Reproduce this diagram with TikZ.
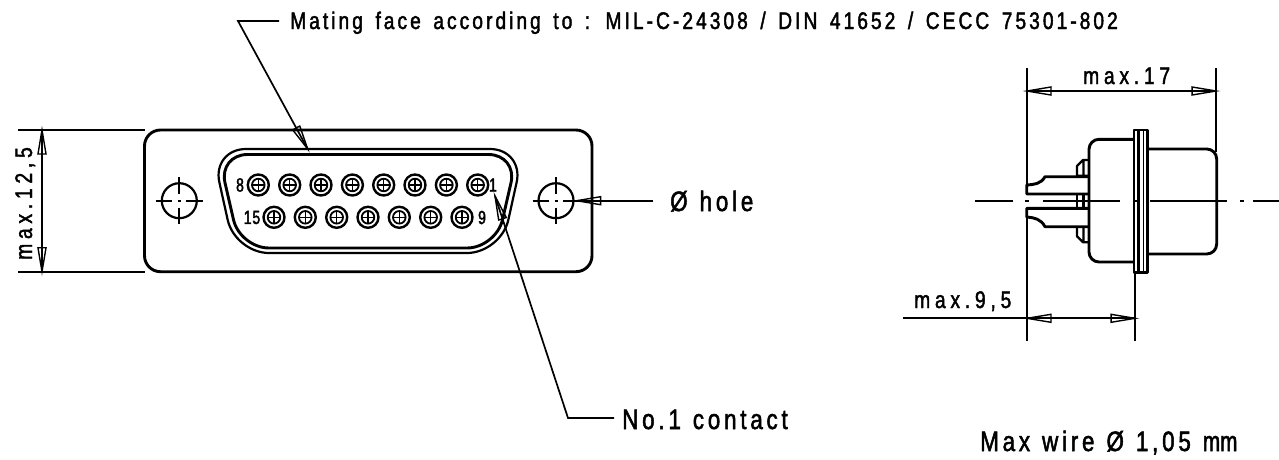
\documentclass[tikz,border=0pt]{standalone}
\usepackage{fontspec}
\setmainfont[FakeStretch=0.8,LetterSpace=12.6,WordSpace=1.5,FakeBold=1.8]{Liberation Sans}
\newfontfamily\bigf[FakeStretch=0.8,LetterSpace=13.5,WordSpace=1.2,FakeBold=1.8]{Liberation Sans}
\newfontfamily\dimf[FakeStretch=0.8,LetterSpace=20,FakeBold=1.8]{Liberation Sans}
\newfontfamily\pinf[FakeStretch=0.74,LetterSpace=4,FakeBold=2]{Liberation Sans}
\newfontfamily\tightf[FakeStretch=0.74,FakeBold=1.8]{Liberation Sans}
\usetikzlibrary{calc}
\tikzset{
  thick line/.style={line width=2.9pt,line join=round},
  mid line/.style={line width=2.2pt,line join=round},
  thin line/.style={line width=1.7pt},
  headst/.style={line width=1.4pt,line join=miter},
  lbl/.style={inner sep=0pt,anchor=base west,font=\bigf\fontsize{28}{28}\selectfont},
  dimlbl/.style={inner sep=0pt,anchor=base west,font=\dimf\fontsize{24}{24}\selectfont},
  toplbl/.style={inner sep=0pt,anchor=base west,font=\fontsize{24}{24}\selectfont},
  pin/.style={circle,draw,line width=2.4pt,minimum size=21pt,inner sep=0pt},
  pinlbl/.style={inner sep=0pt,font=\pinf\fontsize{19}{19}\selectfont},
  hole/.style={circle,draw,line width=2.2pt,minimum size=35pt,inner sep=0pt},
}
\newcommand\hd[2]{\draw[headst] (#1) -- ($(#1)!24.3pt!9.5:(#2)$) -- ($(#1)!24.3pt!-9.5:(#2)$) -- cycle;}
\newcommand\pinmark[2]{%
  \node[pin] (#2) at (#1) {};
  \draw[line width=1.8pt] (#1) circle (6.3pt);
  \draw[line width=1.3pt] ($(#1)+(-6.3,0)$) -- ($(#1)+(6.3,0)$) ($(#1)+(0,-6.3)$) -- ($(#1)+(0,6.3)$);}
\newcommand\holemark[2]{%
  \node[hole] (#2) at (#1) {};
  \draw[line width=1.7pt]
    ($(#1)+(-23.5,0)$) -- ($(#1)+(-7,0)$) ($(#1)+(-1.5,0)$) -- ($(#1)+(1.5,0)$) ($(#1)+(7,0)$) -- ($(#1)+(23.5,0)$)
    ($(#1)+(0,-23.5)$) -- ($(#1)+(0,-7)$) ($(#1)+(0,7)$) -- ($(#1)+(0,23.5)$);}
\begin{document}
\begin{tikzpicture}[x=1pt,y=-1pt]
\useasboundingbox (0,0) rectangle (1279,459);
% flange
\draw[thick line,rounded corners=16pt] (144.5,130) rectangle (592,271.7);
% D shell
\draw[mid line,rounded corners=34pt] (212,149) -- (524,149) -- (501,253) -- (235,253) -- cycle;
\draw[thick line,rounded corners=29pt] (218.5,154.5) -- (517.5,154.5) -- (496,248) -- (240,248) -- cycle;
% holes
\holemark{179.3,200.7}{holeL}
\holemark{556,200.7}{holeR}
% pins
\foreach \i/\x in {8/258.3,7/289.7,6/321,5/352.4,4/383.7,3/415,2/446.4,1/477.7}{\pinmark{\x,185}{p\i}}
\foreach \i/\x in {15/274,14/305.3,13/336.7,12/368,11/399.3,10/430.7,9/462}{\pinmark{\x,217.3}{p\i}}
\node[pinlbl] (n8) at (240,185) {8};
\node[pinlbl] (n15) at (252,217.5) {15};
\node[pinlbl] (n1) at (493,185) {1};
\node[pinlbl] (n9) at (482,217.5) {9};
% left dimension
\coordinate (dT) at (42,130); \coordinate (dB) at (42,271.7);
\draw[thin line] (18,130) -- (144.5,130) (18,271.7) -- (144.5,271.7);
\draw[thin line] (dT) -- (dB);
\hd{dT}{dB}\hd{dB}{dT}
\node[dimlbl,rotate=90] (dim125) at (32,260) {max.12,5};
% mating leader
\coordinate (mT) at (307.7,149); \coordinate (mB) at (238,21); \coordinate (mE) at (279,21);
\draw[thin line] (mE) -- (mB) -- (mT);
\hd{mT}{mB}
\node[toplbl] (mating) at (290,29) {Mating face according to : MIL-C-24308 / DIN 41652 / CECC 75301-802};
% hole leader
\coordinate (hT) at (576.7,200.7); \coordinate (hE) at (653,200.7);
\draw[thin line] (hT) -- (hE);
\hd{hT}{hE}
\node[lbl] (holetxt) at (670,211) {Ø hole};
% contact leader
\coordinate (cT) at (495,196); \coordinate (cB) at (568,418); \coordinate (cE) at (614,418);
\draw[thin line] (cT) -- (cB) -- (cE);
\hd{cT}{cB}
\node[lbl] (contact) at (622,429) {No.1 contact};
% side view
\draw[thick line] (1134,130) rectangle (1147.3,272.3);
\draw[mid line] (1138.5,130) -- (1138.5,272.3);
\draw[thin line] (1143.5,130) -- (1143.5,272.3);
\draw[thick line,rounded corners=10pt] (1134,139.3) -- (1089,139.3) -- (1089,262) -- (1134,262);
\draw[thick line,rounded corners=10pt] (1147.3,149) -- (1216.7,149) -- (1216.7,254) -- (1147.3,254);
% nuts
\draw[mid line] (1089,160) -- (1083,160) -- (1077,166) -- (1077,175.7) -- (1089,175.7) (1083.5,160) -- (1083.5,175.7);
\draw[mid line] (1089,242.3) -- (1083,242.3) -- (1077,236.3) -- (1077,226.7) (1083.5,242.3) -- (1083.5,226.7);
\draw[mid line] (1077,195) -- (1077,206.7) (1089,195) -- (1089,208) (1083.5,195) -- (1083.5,208);
% wires
\draw[thick line] (1089,176.7) -- (1045,176.7) .. controls (1041,184) and (1034,184.5) .. (1026.7,185) -- (1026.7,194) -- (1089,194);
\draw[thick line] (1089,226.7) -- (1045,226.7) .. controls (1041,219) and (1034,217.5) .. (1026.7,217) -- (1026.7,208.3) -- (1089,208.3);
% centre line
\draw[thin line] (975,200.7) -- (1013,200.7) (1025,200.7) -- (1029,200.7) (1043,200.7) -- (1120,200.7) (1133,200.7) -- (1137,200.7) (1150,200.7) -- (1227,200.7) (1240,200.7) -- (1244,200.7) (1253,200.7) -- (1279,200.7);
% right dimensions
\coordinate (aL) at (1027,91); \coordinate (aR) at (1216,91);
\draw[thin line] (1027,68) -- (1027,185) (1027,217) -- (1027,341) (1216,68) -- (1216,152);
\draw[thin line] (aL) -- (aR);
\hd{aL}{aR}\hd{aR}{aL}
\node[dimlbl] (max17) at (1083,84) {max.17};
\coordinate (bL) at (1027,318.3); \coordinate (bR) at (1135,318.3); \coordinate (bE) at (903,318.3);
\draw[thin line] (1135,272) -- (1135,341);
\draw[thin line] (bE) -- (bR);
\hd{bL}{bR}\hd{bR}{bL}
\node[dimlbl] (max95) at (914,308) {max.9,5};
\node[lbl] (wire) at (980,451) {Max wire Ø 1,05 {\tightf mm}};
\end{tikzpicture}
\end{document}
